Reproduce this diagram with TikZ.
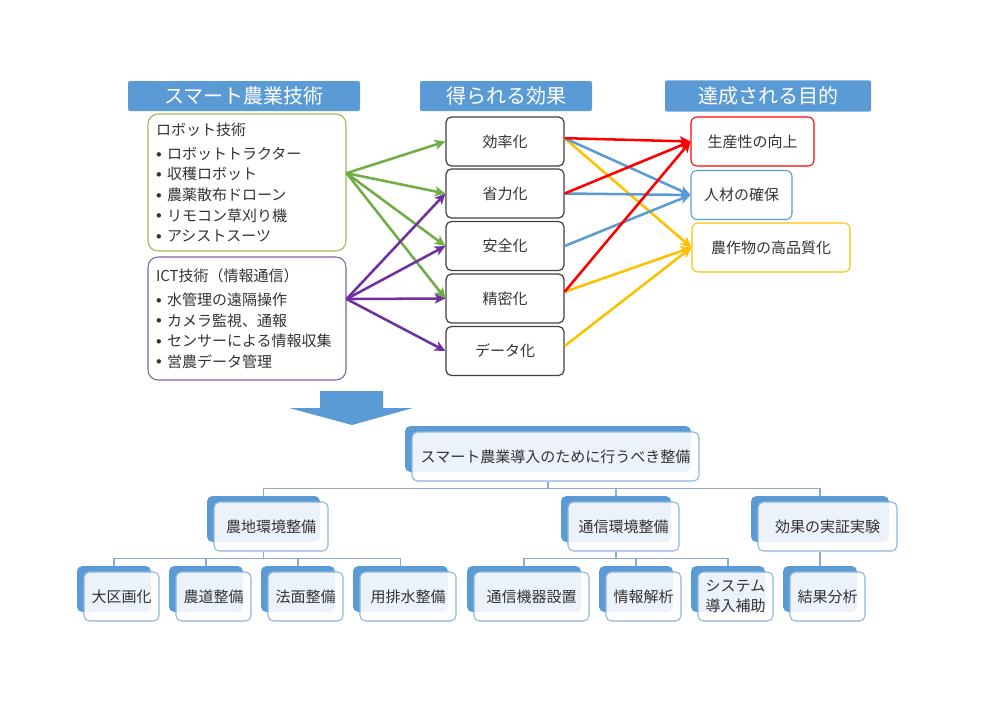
\documentclass[tikz,border=0pt]{standalone}
\usepackage{fontspec}
\setmainfont{Noto Sans CJK JP}
\usetikzlibrary{arrows.meta,calc}
\definecolor{hblue}{HTML}{5B9BD5}
\definecolor{gbox}{HTML}{9BBB59}
\definecolor{garr}{HTML}{70AD47}
\definecolor{pbox}{HTML}{8064A2}
\definecolor{parr}{HTML}{7030A0}
\definecolor{rarr}{HTML}{FF0000}
\definecolor{barr}{HTML}{5B9BD5}
\definecolor{yarr}{HTML}{FFC000}
\definecolor{ebox}{HTML}{404040}
\definecolor{txt}{HTML}{333333}
\definecolor{frontc}{HTML}{8FB4DE}
\definecolor{connc}{HTML}{8EAACC}
\newcommand\bodyfs{\fontsize{11.25pt}{15.4pt}\selectfont}
\newcommand\headfs{\fontsize{15pt}{18pt}\selectfont}
\newcommand\bl{\makebox[8.25pt][l]{\raisebox{1.6pt}{\footnotesize$\bullet$}}}
\newcommand\hnode[6]{%
  \node[hback,minimum width={#4*0.75pt}] (#1) at (#2,#3) {};
  \node[hfront,minimum width={(#4+1)*0.75pt}] (#1-f) at ({#2+7.5},{#3+7.5}) {#6};
  #5}
\begin{document}
\begin{tikzpicture}[x=0.75pt,y=-0.75pt,
  header/.style={fill=hblue,rounded corners=1.5pt,text=white,font=\headfs,inner sep=0pt,minimum height=22.5pt},
  techbox/.style={rounded corners=7.5pt,line width=0.8pt,inner xsep=6pt,inner ysep=0pt,text width=136.5pt,align=left,minimum width=148.5pt,font=\bodyfs,text=txt},
  effbox/.style={draw=ebox,line width=0.9pt,rounded corners=4pt,minimum width=88.5pt,minimum height=36.75pt,font=\bodyfs,text=txt,inner sep=0pt},
  goalbox/.style={line width=0.8pt,rounded corners=4.5pt,minimum height=36.75pt,font=\bodyfs,text=txt,inner sep=0pt},
  arr/.style={line width=1.9pt,-{Stealth[length=8pt,width=7.5pt,inset=2pt]}},
  hback/.style={fill=hblue,rounded corners=4pt,inner sep=0pt,minimum height=34.5pt},
  hfront/.style={fill=white,fill opacity=0.88,text opacity=1,draw=frontc,line width=0.8pt,rounded corners=4pt,text=txt,font=\bodyfs,align=center,inner sep=0pt,minimum height=36.75pt},
  conn/.style={draw=connc,line width=0.8pt}]
\useasboundingbox (0,0) rectangle (1000,707);

% headers
\node[header,minimum width=174pt] (hA) at (244,96) {スマート農業技術};
\node[header,minimum width=129pt] (hB) at (506,96) {得られる効果};
\node[header,minimum width=154.5pt,minimum height=23.5pt] (hC) at (768,96) {達成される目的};

% technology boxes
\node[techbox,draw=gbox,minimum height=102.75pt] (robot) at (247,182.5) {ロボット技術\\[2.6pt]
\bl ロボットトラクター\\
\bl 収穫ロボット\\
\bl 農薬散布ドローン\\
\bl リモコン草刈り機\\
\bl アシストスーツ};
\node[techbox,draw=pbox,minimum height=92.25pt] (ict) at (247,318.5) {ICT技術（情報通信）\\[2.6pt]
\bl 水管理の遠隔操作\\
\bl カメラ監視、通報\\
\bl センサーによる情報収集\\
\bl 営農データ管理};

% effect boxes
\node[effbox] (e1) at (505,141.5) {効率化};
\node[effbox] (e2) at (505,193.5) {省力化};
\node[effbox] (e3) at (505,246) {安全化};
\node[effbox] (e4) at (505,298.5) {精密化};
\node[effbox] (e5) at (505,351) {データ化};

% goal boxes
\node[goalbox,draw=rarr,minimum width=92.25pt] (g1) at (752.5,141.5) {生産性の向上};
\node[goalbox,draw=barr,minimum width=75.75pt] (g2) at (741.5,195) {人材の確保};
\node[goalbox,draw=yarr,minimum width=118.5pt] (g3) at (771,247.5) {農作物の高品質化};

% sources
\coordinate (gs) at ([yshift=7pt]robot.east);
\coordinate (ps) at ([yshift=14.6pt]ict.east);
\coordinate (s1) at ([yshift=2.5pt]e1.east);
\coordinate (s2) at (e2.east);
\coordinate (s3) at (e3.east);
\coordinate (s4) at ([yshift=5pt]e4.east);
\coordinate (s5) at ([yshift=3.7pt]e5.east);

% green arrows
\foreach \t in {e1,e2,e3,e4} \draw[arr,garr] (gs) -- (\t.west);
% purple arrows
\foreach \t in {e2,e3,e4,e5} \draw[arr,parr] (ps) -- (\t.west);
% right arrows
\draw[arr,yarr] (s1) -- (g3.west);
\draw[arr,yarr] (s4) -- (g3.west);
\draw[arr,yarr] (s5) -- (g3.west);
\draw[arr,barr] (s1) -- (g2.west);
\draw[arr,barr] (s2) -- (g2.west);
\draw[arr,barr] (s3) -- (g2.west);
\draw[arr,rarr] (s1) -- (g1.west);
\draw[arr,rarr] (s2) -- (g1.west);
\draw[arr,rarr] (s4) -- (g1.west);

% big down arrow
\fill[hblue] (320,391) -- (383,391) -- (383,408) -- (413,408) -- (352,425) -- (289,408) -- (320,408) -- cycle;

% hierarchy
\hnode{root}{548}{449}{286}{}{スマート農業導入のために行うべき整備}
\hnode{l2a}{263.5}{519}{113}{}{農地環境整備}
\hnode{l2b}{616}{519}{110}{}{通信環境整備}
\hnode{l2c}{820}{519}{138}{}{効果の実証実験}
\hnode{l3a}{114}{589}{74}{}{大区画化}
\hnode{l3b}{206}{589}{74}{}{農道整備}
\hnode{l3c}{298}{589}{74}{}{法面整備}
\hnode{l3d}{400.5}{589}{95}{}{用排水整備}
\hnode{l3e}{524}{589}{114}{}{通信機器設置}
\hnode{l3f}{636}{589}{74}{}{情報解析}
\hnode{l3g}{728}{589}{74}{}{システム\\導入補助}
\hnode{l3h}{820}{589}{74}{}{結果分析}

% connectors
\foreach \c in {l2a,l2b,l2c} \draw[conn] (root.south |- root-f.south) -- ++(0,7) -| (\c.north);
\foreach \c in {l3a,l3b,l3c,l3d} \draw[conn] (l2a.south |- l2a-f.south) -- ++(0,7) -| (\c.north);
\foreach \c in {l3e,l3f,l3g} \draw[conn] (l2b.south |- l2b-f.south) -- ++(0,7) -| (\c.north);
\draw[conn] (l2c.south |- l2c-f.south) -- (l3h.north);
\end{tikzpicture}
\end{document}
